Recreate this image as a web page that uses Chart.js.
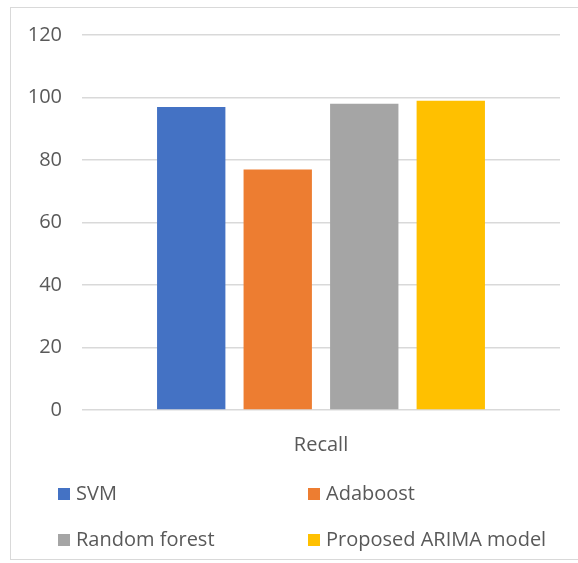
<!DOCTYPE html>
<html>
<head>
<meta charset="utf-8">
<script src="https://cdn.jsdelivr.net/npm/chart.js@4"></script>
<style>
	body { margin: 0; background: #fff; }
	#wrap { position: relative; width: 578px; height: 563px; overflow: hidden; }
	#frame { position: absolute; left: 10px; top: 7px; width: 580px; height: 553px;
		border: 1px solid #d9d9d9; box-sizing: border-box; }
	#chart { position: absolute; left: 0; top: 0; }
	#legend { position: absolute; left: 0; top: 0; font-family: 'Open Sans', sans-serif;
		font-size: 20px; color: #595959; }
	#legend div { position: absolute; white-space: nowrap; line-height: 26px; }
	#legend span { display: inline-block; width: 12px; height: 12px; margin-right: 6px;
		vertical-align: 0px; }
</style>
</head>
<body>
<div id="wrap">
	<div id="frame"></div>
	<canvas id="chart" width="578" height="563"></canvas>
	<div id="legend"></div>
</div>
<script>
categories = ['Recall'];
seriesNames = ['SVM', 'Adaboost', 'Random forest', 'Proposed ARIMA model'];
recallValues = [97, 77, 98, 99];
colors = ['#4472C4', '#ED7D31', '#A5A5A5', '#FFC000'];
yTicks = [0, 20, 40, 60, 80, 100, 120];

ctx = document.getElementById('chart');

datasets = seriesNames.map(function(name, i) {
	return {
		label: name,
		data: [recallValues[i]],
		backgroundColor: colors[i],
		borderWidth: 0,
		barPercentage: 0.79,
		categoryPercentage: 0.724
	};
});

chart = new Chart(ctx, {
	type: 'bar',
	data: {
		labels: categories,
		datasets: datasets
	},
	options: {
		responsive: false,
		animation: false,
		layout: { padding: { top: 35, right: 18, left: 0, bottom: 0 } },
		plugins: {
			legend: { display: false },
			tooltip: { enabled: false }
		},
		scales: {
			x: {
				grid: { display: false },
				border: { display: false },
				ticks: { color: '#595959', padding: 15, font: { family: 'Open Sans', size: 20 } },
				afterFit: function(scale) { scale.height = 153; }
			},
			y: {
				min: 0,
				max: 120,
				afterBuildTicks: function(scale) {
					scale.ticks = yTicks.map(function(v) { return { value: v }; });
				},
				grid: { color: '#d9d9d9', lineWidth: 1.5, drawTicks: false },
				border: { display: false },
				ticks: { color: '#595959', padding: 20, font: { family: 'Open Sans', size: 20 } },
				afterFit: function(scale) { scale.width = 82; }
			}
		}
	}
});

// legend in two columns, like the original
legendPos = [[58, 480], [308, 480], [58, 526], [308, 526]];
legendEl = document.getElementById('legend');
seriesNames.forEach(function(name, i) {
	item = document.createElement('div');
	item.style.left = legendPos[i][0] + 'px';
	item.style.top = legendPos[i][1] + 'px';
	item.innerHTML = '<span style="background:' + colors[i] + '"></span>' + name;
	legendEl.appendChild(item);
});
</script>
</body>
</html>
